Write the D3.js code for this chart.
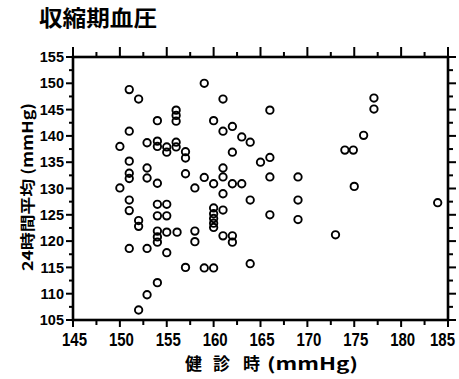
<!DOCTYPE html>
<html>
<head>
<meta charset="utf-8">
<script src="https://cdn.jsdelivr.net/npm/d3@7"></script>
<style>
  body { margin: 0; background: #fff; }
  svg { display: block; }
  .num text { font-family: "Liberation Sans", Arial, sans-serif; font-weight: bold; fill: #000; }
  .jp { font-family: "Noto Sans CJK JP", "Noto Sans CJK SC", sans-serif; font-weight: bold; fill: #000; }
</style>
</head>
<body>
<svg id="chart" width="459" height="379"></svg>
<script>
// chart texts
const title = "収縮期血圧";
const yTitle = "24時間平均 (mmHg)";
const xTitleWords = ["健", "診", "時", "(mmHg)"];

// 健診時 (x) vs 24時間平均 (y)
const bpX = [150, 150, 151, 151, 151, 151, 151, 151, 151, 151,
  152, 152, 152, 152, 152.9, 152.9, 152.9, 152.9, 152.9,
  154, 154, 154, 154, 154, 154, 154, 154, 154, 154,
  155, 155, 155, 155, 155, 155, 156, 156, 156, 156, 156, 156.1,
  157, 157, 157, 157, 158, 158, 158, 159, 159, 159,
  160, 160, 160, 160, 160, 160, 160, 160,
  161, 161, 161, 161, 161, 161, 161, 162, 162, 162, 162, 162,
  163, 163, 163.9, 163.9, 163.9, 165, 166, 166, 166, 166,
  169, 169, 169, 173, 174, 174.9, 175, 176, 177.1, 177.1, 183.9];
const bpY = [138.0, 130.1, 148.8, 140.9, 135.2, 132.9, 131.9, 127.8, 125.8, 118.6,
  147.0, 123.9, 122.8, 106.9, 138.7, 133.9, 132.0, 118.6, 109.8,
  142.9, 139.0, 138.0, 131.0, 127.0, 124.8, 121.9, 120.8, 119.8, 112.1,
  137.9, 136.9, 127.0, 124.8, 121.7, 117.8, 144.9, 143.9, 142.8, 138.8, 137.9, 121.7,
  137.0, 135.8, 132.8, 115.0, 130.1, 121.9, 119.9, 150.0, 132.1, 114.9,
  142.9, 130.9, 126.3, 125.2, 124.3, 123.4, 122.6, 114.9,
  147.0, 140.9, 133.9, 132.2, 129.0, 125.9, 121.0, 141.8, 136.9, 130.9, 121.0, 119.8,
  139.8, 130.9, 138.8, 127.8, 115.7, 135.0, 144.9, 135.9, 132.2, 125.0,
  132.2, 127.8, 124.1, 121.2, 137.3, 137.3, 130.4, 140.1, 147.2, 145.1, 127.3];

// tick values
const xTickLabels = [145, 150, 155, 160, 165, 170, 175, 180, 185];
const yTickLabels = [105, 110, 115, 120, 125, 130, 135, 140, 145, 150, 155];

const margin = { top: 57, right: 11, bottom: 59, left: 73 };
const W = 459, H = 379;
const width = W - margin.left - margin.right;
const height = H - margin.top - margin.bottom;

const svg = d3.select("#chart");
const g = svg.append("g").attr("transform", "translate(" + margin.left + "," + margin.top + ")");

const x = d3.scaleLinear().domain([145, 185]).range([0, width]);
const y = d3.scaleLinear().domain([105, 155]).range([height, 0]);

// a tick every 2.5, the labelled ones are longer
const xAll = d3.range(145, 185.1, 2.5);
const yAll = d3.range(105, 155.1, 2.5);
const isMajor = d => d % 5 === 0;

// tick marks as thin rects, one per tick and side
const tickRects = [];
xAll.forEach(d => {
  const L = isMajor(d) ? 7 : 5, T = isMajor(d) ? 10 : 5;
  tickRects.push({ x: x(d) - 1, y: height, w: 2, h: L });
  tickRects.push({ x: x(d) - 1, y: -T, w: 2, h: T });
});
yAll.forEach(d => {
  const L = isMajor(d) ? 7 : 4, R = isMajor(d) ? 8 : 5;
  tickRects.push({ x: -L, y: y(d) - 1, w: L, h: 2 });
  tickRects.push({ x: width, y: y(d) - 1, w: R, h: 2 });
});
g.append("g")
  .selectAll("rect")
  .data(tickRects)
  .enter()
  .append("rect")
  .attr("x", d => d.x).attr("y", d => d.y)
  .attr("width", d => d.w).attr("height", d => d.h)
  .attr("fill", "#000");

// labels through d3 axes
const xAxis = g.append("g")
  .attr("class", "num")
  .attr("transform", "translate(0," + height + ")")
  .call(d3.axisBottom(x).tickValues(xTickLabels).tickSize(0).tickPadding(13));
xAxis.select(".domain").remove();
xAxis.selectAll("text")
  .style("font-size", "18px")
  .attr("textLength", 25)
  .attr("lengthAdjust", "spacingAndGlyphs")
  .attr("dx", d => d === 185 ? -6 : 1);

const yAxis = g.append("g")
  .attr("class", "num")
  .call(d3.axisLeft(y).tickValues(yTickLabels).tickSize(0).tickPadding(9));
yAxis.select(".domain").remove();
yAxis.selectAll("text").style("font-size", "14.5px");

// frame
g.append("rect")
  .attr("x", 0).attr("y", 0)
  .attr("width", width).attr("height", height)
  .attr("fill", "none")
  .attr("stroke", "#000")
  .attr("stroke-width", 2.6);

// points
g.append("g")
  .selectAll("circle")
  .data(bpX.map((v, i) => ({ x: v, y: bpY[i] })))
  .enter()
  .append("circle")
  .attr("cx", d => x(d.x))
  .attr("cy", d => y(d.y))
  .attr("r", 3.7)
  .attr("fill", "none")
  .attr("stroke", "#000")
  .attr("stroke-width", 1.9);

// title
svg.append("text")
  .attr("class", "jp")
  .attr("x", 39).attr("y", 26)
  .attr("textLength", 118).attr("lengthAdjust", "spacingAndGlyphs")
  .style("font-size", "22px")
  .text(title);

// x axis title
const xt = svg.append("text")
  .attr("class", "jp")
  .attr("y", 370)
  .style("font-size", "17px");
const xPos = [185, 213, 243, 267];
xTitleWords.forEach((w, i) => {
  const ts = xt.append("tspan").attr("x", xPos[i]).text(w);
  if (i === 3) ts.attr("textLength", 91).attr("lengthAdjust", "spacingAndGlyphs");
});

// y axis title
svg.append("text")
  .attr("class", "jp")
  .attr("transform", "translate(33,187) rotate(-90)")
  .attr("text-anchor", "middle")
  .attr("textLength", 168).attr("lengthAdjust", "spacingAndGlyphs")
  .style("font-size", "15px")
  .text(yTitle);
</script>
</body>
</html>
